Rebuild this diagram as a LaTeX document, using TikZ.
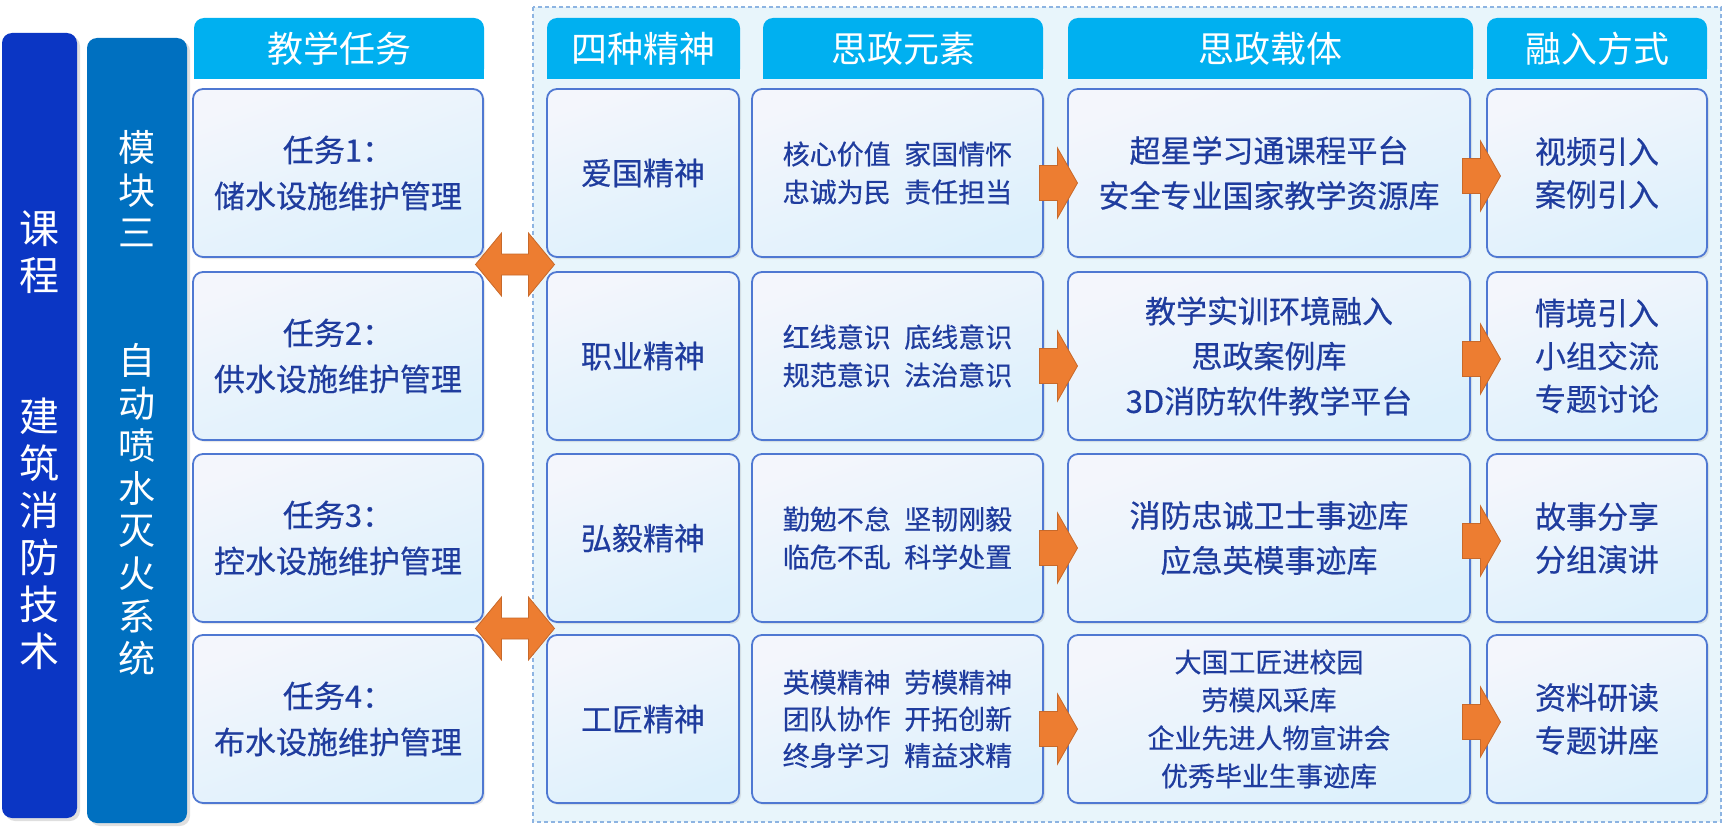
\documentclass[tikz,border=0pt]{standalone}
\usepackage{fontspec}
\setmainfont{Noto Sans CJK SC}
\newfontfamily\boxfont{Noto Sans CJK SC}[FakeBold=0.5]
\usetikzlibrary{calc,shadows,backgrounds}

\definecolor{courseblue}{HTML}{0B36C4}
\definecolor{moduleblue}{HTML}{0070C0}
\definecolor{headblue}{HTML}{00B0F0}
\definecolor{boxline}{HTML}{4F78D2}
\definecolor{boxtop}{HTML}{F4F6FC}
\definecolor{boxbottom}{HTML}{DCF0FC}
\definecolor{textblue}{HTML}{1F3C9E}
\definecolor{arrowfill}{HTML}{ED7D31}
\definecolor{arrowline}{HTML}{C8692A}
\definecolor{dashblue}{HTML}{8DB4E2}
\definecolor{areablue}{HTML}{E8F5FB}

\tikzset{
  sidebar/.style={rounded corners=5pt, minimum width=#1, minimum height=392.5pt,
    inner sep=0pt, drop shadow={opacity=0.25, shadow xshift=1.5pt, shadow yshift=-1.5pt}},
  sidetext/.style={text=white, align=center},
  head/.style={fill=headblue, text=white, rounded corners=5pt, minimum width=#1,
    minimum height=30.5pt, inner sep=0pt, font=\fontsize{18}{20}\selectfont},
  cell/.style={draw=boxline, line width=0.9pt, rounded corners=5pt,
    top color=boxtop, bottom color=boxbottom, shading angle=20,
    minimum width=#1, minimum height=84pt, inner sep=0pt, align=center,
    text=textblue, font=\boxfont\fontsize{15.5}{22.5}\selectfont,
    drop shadow={opacity=0.18, shadow xshift=1pt, shadow yshift=-1pt}},
  dense/.style={font=\boxfont\fontsize{13.5}{19}\selectfont},
  pics/flowarrow/.style={code={
    \draw[fill=arrowfill, draw=arrowline, line width=0.4pt]
      (-19,-17.5) -- (-1,-17.5) -- (-1,-35) -- (19,0) -- (-1,35)
      -- (-1,17.5) -- (-19,17.5) -- cycle;}},
  pics/swaparrow/.style={code={
    \draw[fill=arrowfill, draw=arrowline, line width=0.4pt]
      (-39.5,0) -- (-13.5,-31.5) -- (-13.5,-10.5) -- (13.5,-10.5) -- (13.5,-31.5)
      -- (39.5,0) -- (13.5,31.5) -- (13.5,10.5) -- (-13.5,10.5) -- (-13.5,31.5) -- cycle;}},
}

\begin{document}
\begin{tikzpicture}[x=0.5pt,y=-0.5pt]
  \useasboundingbox (0,0) rectangle (1726,840);

  % course and module bars
  \node[sidebar=37.5pt, fill=courseblue] (course) at (39.5,425.5) {};
  \node[sidetext, font=\fontsize{20}{23.5}\selectfont] at ([yshift=-7.25pt]course.center)
    {课\\程\\[47pt]建\\筑\\消\\防\\技\\术};
  \node[sidebar=50pt, fill=moduleblue] (module) at (137,430.5) {};
  \node[sidetext, font=\fontsize{18.5}{21.3}\selectfont] at ([yshift=13.75pt]module.center)
    {模\\块\\三\\[42.6pt]自\\动\\喷\\水\\灭\\火\\系\\统};

  % headers
  \node[head=145pt] (ht) at (339,48.5) {教学任务};
  \node[head=96.5pt] (hs) at (643.5,48.5) {四种精神};
  \node[head=140pt] (he) at (903,48.5) {思政元素};
  \node[head=202.5pt] (hc) at (1270.5,48.5) {思政载体};
  \node[head=110pt] (hm) at (1597,48.5) {融入方式};

  % teaching tasks
  \node[cell=145pt, font=\boxfont\fontsize{15.5}{23}\selectfont] (t1) at (338,173) {任务1：\\储水设施维护管理};
  \node[cell=145pt, font=\boxfont\fontsize{15.5}{23}\selectfont] (t2) at (338,356) {任务2：\\供水设施维护管理};
  \node[cell=145pt, font=\boxfont\fontsize{15.5}{23}\selectfont] (t3) at (338,538) {任务3：\\控水设施维护管理};
  \node[cell=145pt, font=\boxfont\fontsize{15.5}{23}\selectfont] (t4) at (338,719) {任务4：\\布水设施维护管理};

  % four spirits
  \node[cell=96pt] (s1) at (643,173) {爱国精神};
  \node[cell=96pt] (s2) at (643,356) {职业精神};
  \node[cell=96pt] (s3) at (643,538) {弘毅精神};
  \node[cell=96pt] (s4) at (643,719) {工匠精神};

  % elements
  \node[cell=145.5pt, dense] (e1) at (897.5,173) {核心价值\hspace{0.5em}家国情怀\\忠诚为民\hspace{0.5em}责任担当};
  \node[cell=145.5pt, dense] (e2) at (897.5,356) {红线意识\hspace{0.5em}底线意识\\规范意识\hspace{0.5em}法治意识};
  \node[cell=145.5pt, dense] (e3) at (897.5,538) {勤勉不怠\hspace{0.5em}坚韧刚毅\\临危不乱\hspace{0.5em}科学处置};
  \node[cell=145.5pt, font=\boxfont\fontsize{13.5}{18.3}\selectfont] (e4) at (897.5,719)
    {英模精神\hspace{0.5em}劳模精神\\团队协作\hspace{0.5em}开拓创新\\终身学习\hspace{0.5em}精益求精};

  % carriers
  \node[cell=201pt] (c1) at (1269,173) {超星学习通课程平台\\安全专业国家教学资源库};
  \node[cell=201pt] (c2) at (1269,356) {教学实训环境融入\\思政案例库\\3D消防软件教学平台};
  \node[cell=201pt] (c3) at (1269,538) {消防忠诚卫士事迹库\\应急英模事迹库};
  \node[cell=201pt, dense] (c4) at (1269,719) {大国工匠进校园\\劳模风采库\\企业先进人物宣讲会\\优秀毕业生事迹库};

  % methods
  \node[cell=110pt, font=\boxfont\fontsize{15.5}{21.5}\selectfont] (m1) at (1597,173) {视频引入\\案例引入};
  \node[cell=110pt, font=\boxfont\fontsize{15.5}{21.5}\selectfont] (m2) at (1597,356) {情境引入\\小组交流\\专题讨论};
  \node[cell=110pt, font=\boxfont\fontsize{15.5}{21.5}\selectfont] (m3) at (1597,538) {故事分享\\分组演讲};
  \node[cell=110pt, font=\boxfont\fontsize{15.5}{21.5}\selectfont] (m4) at (1597,719) {资料研读\\专题讲座};

  % arrows
  \path ($(t1.south east)!0.5!(s2.north west)$) pic {swaparrow};
  \path ($(t3.south east)!0.5!(s4.north west)$) pic {swaparrow};
  \path ($(e1.east)!0.5!(c1.west)$) ++(3,10) pic {flowarrow};
  \path ($(e2.east)!0.5!(c2.west)$) ++(3,10) pic {flowarrow};
  \path ($(e3.east)!0.5!(c3.west)$) ++(3,10) pic {flowarrow};
  \path ($(e4.east)!0.5!(c4.west)$) ++(3,10) pic {flowarrow};
  \path ($(c1.east)!0.5!(m1.west)$) ++(3,3) pic {flowarrow};
  \path ($(c2.east)!0.5!(m2.west)$) ++(3,3) pic {flowarrow};
  \path ($(c3.east)!0.5!(m3.west)$) ++(3,3) pic {flowarrow};
  \path ($(c4.east)!0.5!(m4.west)$) ++(3,3) pic {flowarrow};

  \begin{scope}[on background layer]
    \fill[white] (0,0) rectangle (1726,840);
    \draw[dashblue, line width=0.8pt, dash pattern=on 2pt off 1.5pt, fill=areablue]
      (533,7) rectangle (1721,822);
    % square bottom corners of the headers
    \fill[headblue] (ht.west) rectangle (ht.south east);
    \fill[headblue] (hs.west) rectangle (hs.south east);
    \fill[headblue] (he.west) rectangle (he.south east);
    \fill[headblue] (hc.west) rectangle (hc.south east);
    \fill[headblue] (hm.west) rectangle (hm.south east);
  \end{scope}
\end{tikzpicture}
\end{document}
